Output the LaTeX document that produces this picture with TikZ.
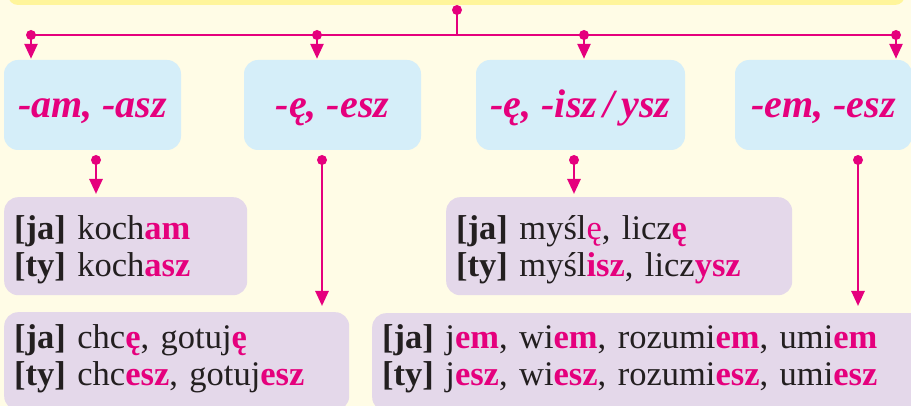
\documentclass[tikz,border=0pt]{standalone}
\usepackage{fontspec}
\setmainfont{Liberation Serif}
\usetikzlibrary{arrows.meta}

\definecolor{cream}{HTML}{FFFCE6}
\definecolor{barYellow}{HTML}{FFF59B}
\definecolor{endBlue}{HTML}{D5EEF9}
\definecolor{formLilac}{HTML}{E4D8EA}
\definecolor{accent}{HTML}{E5007D}
\definecolor{ink}{HTML}{231F20}

% końcówka: wytłuszczona, w kolorze
\newcommand{\konc}[1]{\textbf{\textcolor{accent}{#1}}}
\newcommand{\osoba}[1]{\textbf{[#1]}}

\tikzset{
  endbox/.style={fill=endBlue, rounded corners=14pt, minimum width=177pt,
    minimum height=90pt, text height=26pt, text depth=0pt,
    font=\fontsize{40}{44}\selectfont\bfseries\itshape, text=accent},
  formbox/.style={fill=formLilac, rounded corners=14pt, anchor=north west,
    align=left, inner xsep=10pt, inner ysep=0pt,
    font=\fontsize{34.5}{37}\selectfont, text=ink},
  link/.style={accent, line width=2.6pt, -{Triangle[width=13pt,length=15pt]}},
  wire/.style={accent, line width=2.6pt},
}

\begin{document}
\begin{tikzpicture}[x=1pt, y=-1pt]
    \useasboundingbox (0,0) rectangle (911,406);
    \clip (0,0) rectangle (911,406);
    \fill[cream] (0,0) rectangle (911,406);

    % pasek u góry
    \node[fill=barYellow, rounded corners=10pt, minimum width=897pt,
      minimum height=30pt, inner sep=0pt] (bar) at (456.5,-10) {};

    % punkty rozgałęzień
    \coordinate (top) at (457,10);
    \coordinate (hub) at (457,35);
    \coordinate (d1) at (31,35);
    \coordinate (d2) at (317,35);
    \coordinate (d3) at (584,35);
    \coordinate (d4) at (896,35);
    \coordinate (s1) at (96,160);
    \coordinate (s2) at (322,160);
    \coordinate (s3) at (574,160);
    \coordinate (s4) at (858,160);

    % końcówki
    \node[endbox] (e1) at (92.5,105) {-am, -asz};
    \node[endbox] (e2) at (332.5,105) {-ę, -esz};
    \node[endbox, minimum width=209pt] (e3) at (580.5,105) {-ę, -isz\,/\,ysz};
    \node[endbox] (e4) at (823.5,105) {-em, -esz};

    % przykłady odmiany
    \node[formbox, text width=223pt, text height=42pt, text depth=56pt] (f1) at (4,197)
      {\osoba{ja} koch\konc{am}\\ \osoba{ty} koch\konc{asz}};
    \node[formbox, text width=325pt, text height=36pt, text depth=62pt] (f2) at (4,312)
      {\osoba{ja} chc\konc{ę}, gotuj\konc{ę}\\ \osoba{ty} chc\konc{esz}, gotuj\konc{esz}};
    \node[formbox, text width=326pt, text height=42pt, text depth=56pt] (f3) at (446,197)
      {\osoba{ja} myśl\textcolor{accent}{ę}, licz\konc{ę}\\ \osoba{ty} myśl\konc{isz}, licz\konc{ysz}};
    \node[formbox, text width=538pt, text height=35pt, text depth=63pt] (f4) at (372,313)
      {\osoba{ja} j\konc{em}, wi\konc{em}, rozumi\konc{em}, umi\konc{em}\\
       \osoba{ty} j\konc{esz}, wi\konc{esz}, rozumi\konc{esz}, umi\konc{esz}};

    % połączenia
    \draw[wire] (top) -- (hub);
    \draw[wire] (d1) -- (d4);
    \foreach \i in {1,...,4}
      \draw[link, shorten >=1pt] (d\i) -- (d\i |- e\i.north);
    \draw[link, shorten >=3pt] (s1) -- (s1 |- f1.north);
    \draw[link, shorten >=6pt] (s2) -- (s2 |- f2.north);
    \draw[link, shorten >=3pt] (s3) -- (s3 |- f3.north);
    \draw[link, shorten >=7pt] (s4) -- (s4 |- f4.north);
    \foreach \p in {top,d1,d2,d3,d4,s1,s2,s3,s4}
      \fill[accent] (\p) circle (5pt);

\end{tikzpicture}
\end{document}
